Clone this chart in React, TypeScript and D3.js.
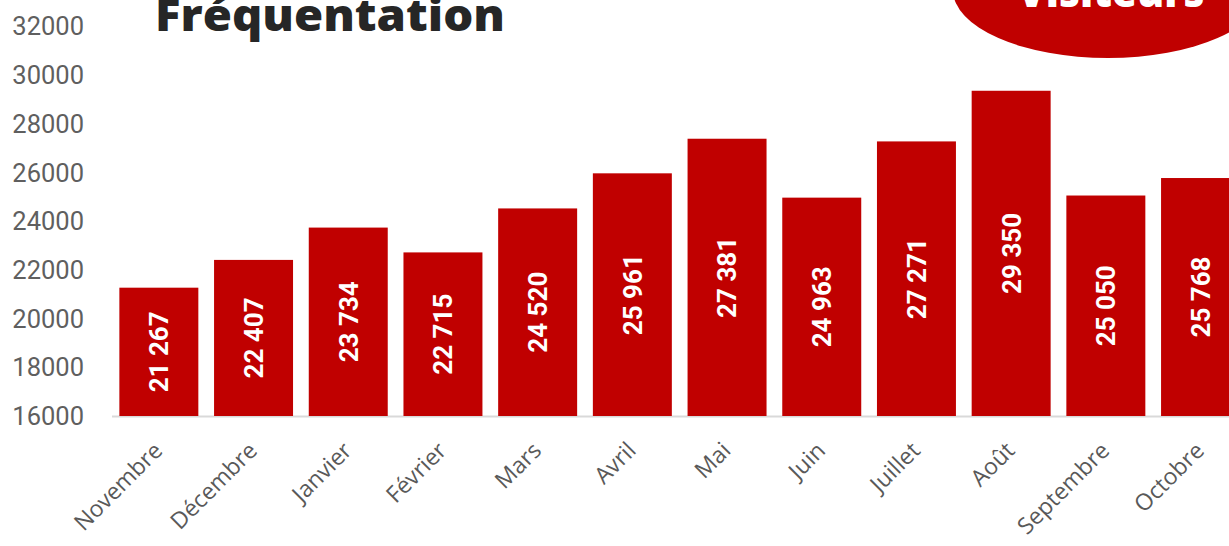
import React from "react";
import * as d3 from "d3";

const months = ["Novembre", "Décembre", "Janvier", "Février", "Mars", "Avril", "Mai", "Juin", "Juillet", "Août", "Septembre", "Octobre"];
const visitors = [21267, 22407, 23734, 22715, 24520, 25961, 27381, 24963, 27271, 29350, 25050, 25768];
const yTicks = [16000, 18000, 20000, 22000, 24000, 26000, 28000, 30000, 32000];
const title = "Fréquentation";
const badge = "Visiteurs";

const W = 1229;
const H = 546;

export default function App() {
  const x = d3.scaleBand<string>().domain(months).range([111.5, 1247.9]).paddingInner(0.166).paddingOuter(0.083);
  const y = d3.scaleLinear().domain([16000, 32000]).range([416, 26.2]);
  const fmt = (v: number) => d3.format(",")(v).replace(/,/g, " ");
  const red = "#C00000";
  return (
    <div style={{ position: "fixed", left: 0, top: 0 }}>
      <svg width={W} height={H} style={{ display: "block", background: "#fff" }}>
        <g>
          {yTicks.map((t) => (
            <text key={t} x={84} y={y(t)} dy="0.36em" textAnchor="end" fontFamily="Roboto" fontSize={25.5} fill="#5f5f5f">
              {t}
            </text>
          ))}
        </g>
        <line x1={112} x2={W} y1={y(16000) + 0.5} y2={y(16000) + 0.5} stroke="#d9d9d9" strokeWidth={2} />
        {months.map((m, i) => {
          const bx = x(m)!;
          const bw = x.bandwidth();
          const top = y(visitors[i]);
          const bottom = y(16000);
          const cx = bx + bw / 2;
          const cy = (top + bottom) / 2;
          return (
            <g key={m}>
              <rect x={bx} y={top} width={bw} height={bottom - top} fill={red} />
              <text
                transform={`translate(${cx},${cy}) rotate(-90)`}
                textAnchor="middle"
                dy="0.36em"
                fontFamily="Roboto"
                fontWeight={700}
                fontSize={26}
                fill="#fff"
              >
                {fmt(visitors[i])}
              </text>
              <text
                transform={`translate(${cx + 5},${452}) rotate(-45)`}
                textAnchor="end"
                fontFamily="Open Sans"
                fontSize={23}
                fill="#595959"
              >
                {m}
              </text>
            </g>
          );
        })}
        <text x={155} y={31} fontFamily="Open Sans" fontWeight={800} fontSize={44} fill="#262626" textLength={350} lengthAdjust="spacingAndGlyphs">
          {title}
        </text>
        <ellipse cx={1108} cy={-10} rx={155} ry={68} fill={red} />
        <text x={1111} y={7} textAnchor="middle" fontFamily="Open Sans" fontWeight={800} fontSize={44} fill="#fff" textLength={187} lengthAdjust="spacingAndGlyphs">
          {badge}
        </text>
      </svg>
    </div>
  );
}
